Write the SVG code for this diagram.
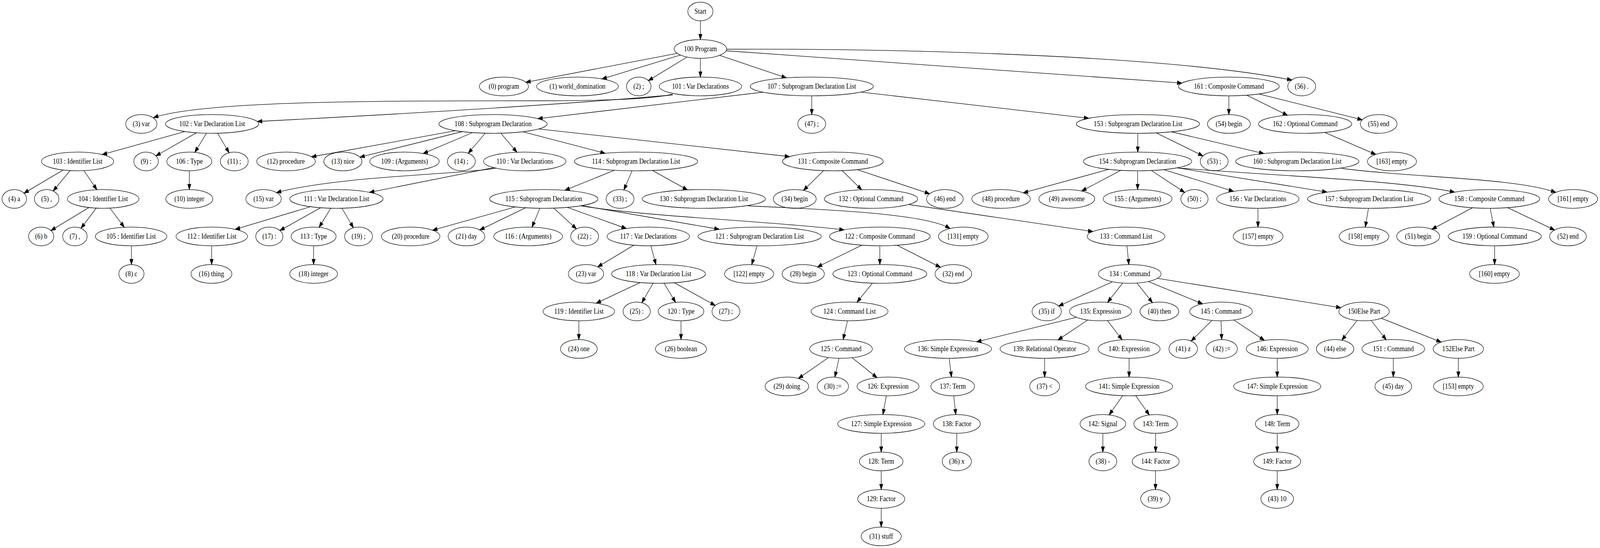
<svg xmlns="http://www.w3.org/2000/svg" width="4699" height="1403" viewBox="0 0 4699 1403" preserveAspectRatio="none">
<style>
svg{width:100vw;height:100vh;display:block}
.node ellipse{fill:none;stroke:#000;stroke-width:1.33}
.node text{font-family:"Liberation Serif","Times New Roman",serif;font-size:18.67px;text-anchor:middle;fill:#000}
#edges path{fill:none;stroke:#000;stroke-width:1.33;marker-end:url(#ah)}
</style>
<defs>
<marker id="ah" markerUnits="userSpaceOnUse" markerWidth="16" markerHeight="12" refX="13.3" refY="4.67" orient="auto" overflow="visible">
<path d="M0,0 L13.3,4.67 L0,9.33 Z" fill="#000" stroke="#000" stroke-width="1.33"/>
</marker>
</defs>
<rect width="4699" height="1403" fill="#fff"/>
<g id="edges">
<path d="M2057,53.3 L2057,101.3"/>
<path d="M1989,136.6 L1544.4,210.6"/>
<path d="M1998.4,140.9 L1768.1,202.1"/>
<path d="M2018,146 L1904.2,206.4"/>
<path d="M2057,149.3 L2057,197.3"/>
<path d="M2113,141.7 L2309.5,199.4"/>
<path d="M2132,130 L3471,212.7"/>
<path d="M2134,126 C2700,124 3450,145 3794,205"/>
<path d="M1975,241 C1920,253 1800,258 1600,258 C1100,258 600,258 451,301"/>
<path d="M1976,243 C1600,272 1000,300 756,311"/>
<path d="M542.9,336.8 L300.3,395.7"/>
<path d="M577.3,339.9 L457.9,399"/>
<path d="M606.4,341.1 L572.2,390"/>
<path d="M639.1,341.1 L672.9,391"/>
<path d="M185.4,435.3 L70.5,494.6"/>
<path d="M205.8,436.8 L156.2,489"/>
<path d="M246.5,436.9 L284.5,485.7"/>
<path d="M261.2,531.3 L149.7,590.2"/>
<path d="M282.6,532.8 L238,584.5"/>
<path d="M323.1,532.9 L364.9,581.7"/>
<path d="M386,629.3 L386,677.3"/>
<path d="M556,437.3 L556,485.3"/>
<path d="M2240.8,236 L1579.5,303.8"/>
<path d="M2384,245.3 L2384,293.3"/>
<path d="M2528.5,235.8 L3197.5,302.8"/>
<path d="M1338,334.7 L915,401.5"/>
<path d="M1357.6,337 L1057,402.4"/>
<path d="M1387.8,339.5 L1242.8,393.1"/>
<path d="M1425,341.1 L1375.2,392.4"/>
<path d="M1471,341.1 L1518.2,389.7"/>
<path d="M1535.6,337.3 L1777.2,392.5"/>
<path d="M1582,330.2 L2318.8,401"/>
<path d="M1456,430.5 C1350,447 1000,450 812,493"/>
<path d="M1450,429.1 L1085.3,492.4"/>
<path d="M911.9,529.2 L691,587.2"/>
<path d="M941.6,531.9 L822,590.2"/>
<path d="M971.4,533.1 L937.2,582"/>
<path d="M1004.1,533.1 L1037.9,583"/>
<path d="M621.5,629.3 L621.5,677.3"/>
<path d="M921,629.3 L921,677.3"/>
<path d="M1804.5,435.8 L1659.3,487.2"/>
<path d="M1856.3,437.3 L1832.3,486.2"/>
<path d="M1916,436.4 L2019,486.2"/>
<path d="M1513.7,529.7 L1270.6,589.4"/>
<path d="M1543.6,531.9 L1409.1,588.8"/>
<path d="M1585.5,533.2 L1562.4,581.5"/>
<path d="M1626.5,532.9 L1692.8,585.9"/>
<path d="M1666.1,530.9 L1839.2,585"/>
<path d="M1709,526.3 L2112,587"/>
<path d="M1706,527 C1900,555 2250,565 2479,588.5"/>
<path d="M1861.2,627.8 L1755.3,683.3"/>
<path d="M1911.5,629.3 L1926.5,677.3"/>
<path d="M1880.1,723.4 L1751.1,776.3"/>
<path d="M1918.1,725.1 L1884.9,775"/>
<path d="M1950.4,725.1 L1984,774"/>
<path d="M1980.6,723.9 L2100.4,782"/>
<path d="M1700,821.3 L1700,869.3"/>
<path d="M2000,821.3 L2000,869.3"/>
<path d="M2223.3,629.3 L2207.7,677.4"/>
<path d="M2531.4,627.7 L2400.7,683.5"/>
<path d="M2584,629.3 L2584,677.3"/>
<path d="M2634.7,627.9 L2761.8,684.3"/>
<path d="M2562,725 L2516.8,773.8"/>
<path d="M2488.8,821.3 L2476.2,869.4"/>
<path d="M2433.5,915.3 L2344.8,968.9"/>
<path d="M2464,917.3 L2451.9,965.5"/>
<path d="M2502.3,915.8 L2575.7,966.9"/>
<path d="M2603,1013.3 L2593,1061.3"/>
<path d="M2588,1109.3 L2588,1157.3"/>
<path d="M2588,1205.3 L2588,1253.3"/>
<path d="M2588,1301.3 L2588,1349.3"/>
<path d="M2196,527 C2450,537 2720,548 2790,585"/>
<path d="M2418.5,436.9 L2359.6,487.4"/>
<path d="M2473.5,436.9 L2530.6,485.8"/>
<path d="M2518,434.3 L2730,496.1"/>
<path d="M2668.5,523.5 L3209.6,592.8"/>
<path d="M3309.7,629.3 L3315.3,677.3"/>
<path d="M3267.2,721.3 L3109.2,783.5"/>
<path d="M3297.1,724.7 L3252.9,773.9"/>
<path d="M3339.2,724.7 L3384.7,774.9"/>
<path d="M3372.2,720.7 L3531.8,777.9"/>
<path d="M3399,712.6 L3938,787.8"/>
<path d="M3161.4,812.4 L2868.3,875.2"/>
<path d="M3194.6,819.2 L3107.1,870.4"/>
<path d="M3252.5,820.7 L3295.5,869.9"/>
<path d="M2787.5,917.3 L2794.5,965.3"/>
<path d="M2801,1013.3 L2807,1061.3"/>
<path d="M2810,1109.3 L2810,1157.3"/>
<path d="M3068,917.3 L3068,965.3"/>
<path d="M3316,917.3 L3316,965.3"/>
<path d="M3297,1013 L3257.5,1062.2"/>
<path d="M3335.3,1013 L3375.4,1062.3"/>
<path d="M3239,1109.3 L3239,1157.3"/>
<path d="M3394,1109.3 L3394,1157.3"/>
<path d="M3393.5,1205.3 L3393.5,1253.3"/>
<path d="M3559.4,820.3 L3498.2,873.3"/>
<path d="M3586.1,821.3 L3587.9,869.3"/>
<path d="M3623.6,819.2 L3713.4,871.4"/>
<path d="M3751,917.3 L3751,965.3"/>
<path d="M3751,1013.3 L3751,1061.3"/>
<path d="M3751,1109.3 L3751,1157.3"/>
<path d="M3751,1205.3 L3751,1253.3"/>
<path d="M3985.6,820.4 L3940.8,870.9"/>
<path d="M4026.6,820.4 L4071.1,869.9"/>
<path d="M4056.6,814.8 L4232.4,875.8"/>
<path d="M4092,917.3 L4092,965.3"/>
<path d="M4283,917.3 L4283,965.3"/>
<path d="M3341.5,341.3 L3341.5,389.3"/>
<path d="M3395.5,340.2 L3532.9,399.1"/>
<path d="M3440.3,337.5 L3711.7,393.1"/>
<path d="M3256.2,433.6 L3005.3,493.7"/>
<path d="M3291.6,436.1 L3176.9,489"/>
<path d="M3341,437.3 L3341,485.3"/>
<path d="M3381.4,436.5 L3479.1,492.7"/>
<path d="M3418,434.3 L3622.7,489.9"/>
<path d="M3457,429.7 L3897,491.8"/>
<path d="M3458,430 C3700,448 4100,460 4272,492"/>
<path d="M3694.5,533.3 L3694.5,581.3"/>
<path d="M4019,533.3 L4009.7,581.3"/>
<path d="M4324.7,531.9 L4205.2,586.8"/>
<path d="M4376.6,533.3 L4387.2,581.3"/>
<path d="M4427.8,531.7 L4565.6,588.9"/>
<path d="M4389.5,629.3 L4389.5,677.3"/>
<path d="M3940,431 C4150,455 4450,455 4569,492.5"/>
<path d="M3609,245.3 L3609,293.3"/>
<path d="M3661.4,243.7 L3781.1,295.1"/>
<path d="M3697.3,240.6 L4000.5,306.7"/>
<path d="M3890.8,339.1 L4040.3,395.3"/>
</g>
<g id="nStart" class="node"><ellipse cx="2057" cy="29.3" rx="37" ry="24"/><text x="2057" y="35.3">Start</text></g>
<g id="n100" class="node"><ellipse cx="2057" cy="125.3" rx="77" ry="24"/><text x="2057" y="131.3">100 Program</text></g>
<g id="n0" class="node"><ellipse cx="1480" cy="221.3" rx="72" ry="24"/><text x="1480" y="227.3">(0) program</text></g>
<g id="n1" class="node"><ellipse cx="1696" cy="221.3" rx="120" ry="24"/><text x="1696" y="227.3">(1) world_domination</text></g>
<g id="n2" class="node"><ellipse cx="1876" cy="221.3" rx="36" ry="24"/><text x="1876" y="227.3">(2) ;</text></g>
<g id="n101" class="node"><ellipse cx="2057" cy="221.3" rx="121" ry="24"/><text x="2057" y="227.3">101 : Var Declarations</text></g>
<g id="n107" class="node"><ellipse cx="2384" cy="221.3" rx="181" ry="24"/><text x="2384" y="227.3">107 : Subprogram Declaration List</text></g>
<g id="n161" class="node"><ellipse cx="3609" cy="221.3" rx="148" ry="24"/><text x="3609" y="227.3">161 : Composite Command</text></g>
<g id="n56" class="node"><ellipse cx="3823" cy="221.3" rx="41" ry="24"/><text x="3823" y="227.3">(56) .</text></g>
<g id="n3" class="node"><ellipse cx="415" cy="317.3" rx="46" ry="24"/><text x="415" y="323.3">(3) var</text></g>
<g id="n102" class="node"><ellipse cx="623" cy="317.3" rx="137" ry="24"/><text x="623" y="323.3">102 : Var Declaration List</text></g>
<g id="n108" class="node"><ellipse cx="1448" cy="317.3" rx="159" ry="24"/><text x="1448" y="323.3">108 : Subprogram Declaration</text></g>
<g id="n47" class="node"><ellipse cx="2384" cy="317.3" rx="41" ry="24"/><text x="2384" y="323.3">(47) ;</text></g>
<g id="n153" class="node"><ellipse cx="3342" cy="317.3" rx="181" ry="24"/><text x="3342" y="323.3">153 : Subprogram Declaration List</text></g>
<g id="n54" class="node"><ellipse cx="3609" cy="317.3" rx="63" ry="24"/><text x="3609" y="323.3">(54) begin</text></g>
<g id="n162" class="node"><ellipse cx="3833" cy="317.3" rx="137" ry="24"/><text x="3833" y="323.3">162 : Optional Command</text></g>
<g id="n55" class="node"><ellipse cx="4049" cy="317.3" rx="54" ry="24"/><text x="4049" y="323.3">(55) end</text></g>
<g id="n103" class="node"><ellipse cx="228" cy="413.3" rx="106" ry="24"/><text x="228" y="419.3">103 : Identifier List</text></g>
<g id="n9" class="node"><ellipse cx="429" cy="413.3" rx="36" ry="24"/><text x="429" y="419.3">(9) :</text></g>
<g id="n106" class="node"><ellipse cx="556" cy="413.3" rx="66" ry="24"/><text x="556" y="419.3">106 : Type</text></g>
<g id="n11" class="node"><ellipse cx="688" cy="413.3" rx="41" ry="24"/><text x="688" y="419.3">(11) ;</text></g>
<g id="n12" class="node"><ellipse cx="840" cy="413.3" rx="86" ry="24"/><text x="840" y="419.3">(12) procedure</text></g>
<g id="n13" class="node"><ellipse cx="1007" cy="413.3" rx="56" ry="24"/><text x="1007" y="419.3">(13) nice</text></g>
<g id="n109" class="node"><ellipse cx="1188" cy="413.3" rx="102" ry="24"/><text x="1188" y="419.3">109 : (Arguments)</text></g>
<g id="n14" class="node"><ellipse cx="1355" cy="413.3" rx="41" ry="24"/><text x="1355" y="419.3">(14) ;</text></g>
<g id="n110" class="node"><ellipse cx="1541" cy="413.3" rx="121" ry="24"/><text x="1541" y="419.3">110 : Var Declarations</text></g>
<g id="n114" class="node"><ellipse cx="1868" cy="413.3" rx="181" ry="24"/><text x="1868" y="419.3">114 : Subprogram Declaration List</text></g>
<g id="n131" class="node"><ellipse cx="2446" cy="413.3" rx="148" ry="24"/><text x="2446" y="419.3">131 : Composite Command</text></g>
<g id="n154" class="node"><ellipse cx="3341" cy="413.3" rx="159" ry="24"/><text x="3341" y="419.3">154 : Subprogram Declaration</text></g>
<g id="n53" class="node"><ellipse cx="3566" cy="413.3" rx="41" ry="24"/><text x="3566" y="419.3">(53) ;</text></g>
<g id="n160" class="node"><ellipse cx="3810" cy="413.3" rx="181" ry="24"/><text x="3810" y="419.3">160 : Subprogram Declaration List</text></g>
<g id="e163" class="node"><ellipse cx="4088" cy="413.3" rx="72" ry="24"/><text x="4088" y="419.3">[163] empty</text></g>
<g id="n4" class="node"><ellipse cx="42" cy="509.3" rx="36" ry="24"/><text x="42" y="515.3">(4) a</text></g>
<g id="n5" class="node"><ellipse cx="137" cy="509.3" rx="36" ry="24"/><text x="137" y="515.3">(5) ,</text></g>
<g id="n104" class="node"><ellipse cx="303" cy="509.3" rx="105" ry="24"/><text x="303" y="515.3">104 : Identifier List</text></g>
<g id="n10" class="node"><ellipse cx="556" cy="509.3" rx="69" ry="24"/><text x="556" y="515.3">(10) integer</text></g>
<g id="n15" class="node"><ellipse cx="774" cy="509.3" rx="52" ry="24"/><text x="774" y="515.3">(15) var</text></g>
<g id="n111" class="node"><ellipse cx="988" cy="509.3" rx="137" ry="24"/><text x="988" y="515.3">111 : Var Declaration List</text></g>
<g id="n115" class="node"><ellipse cx="1597" cy="509.3" rx="159" ry="24"/><text x="1597" y="515.3">115 : Subprogram Declaration</text></g>
<g id="n33" class="node"><ellipse cx="1821" cy="509.3" rx="41" ry="24"/><text x="1821" y="515.3">(33) ;</text></g>
<g id="n130" class="node"><ellipse cx="2067" cy="509.3" rx="181" ry="24"/><text x="2067" y="515.3">130 : Subprogram Declaration List</text></g>
<g id="n34" class="node"><ellipse cx="2334" cy="509.3" rx="63" ry="24"/><text x="2334" y="515.3">(34) begin</text></g>
<g id="n132" class="node"><ellipse cx="2558" cy="509.3" rx="137" ry="24"/><text x="2558" y="515.3">132 : Optional Command</text></g>
<g id="n46" class="node"><ellipse cx="2775" cy="509.3" rx="54" ry="24"/><text x="2775" y="515.3">(46) end</text></g>
<g id="n48" class="node"><ellipse cx="2940" cy="509.3" rx="86" ry="24"/><text x="2940" y="515.3">(48) procedure</text></g>
<g id="n49" class="node"><ellipse cx="3133" cy="509.3" rx="82" ry="24"/><text x="3133" y="515.3">(49) awesome</text></g>
<g id="n155" class="node"><ellipse cx="3341" cy="509.3" rx="101" ry="24"/><text x="3341" y="515.3">155 : (Arguments)</text></g>
<g id="n50" class="node"><ellipse cx="3508" cy="509.3" rx="40" ry="24"/><text x="3508" y="515.3">(50) ;</text></g>
<g id="n156" class="node"><ellipse cx="3694" cy="509.3" rx="121" ry="24"/><text x="3694" y="515.3">156 : Var Declarations</text></g>
<g id="n157" class="node"><ellipse cx="4021" cy="509.3" rx="181" ry="24"/><text x="4021" y="515.3">157 : Subprogram Declaration List</text></g>
<g id="n158" class="node"><ellipse cx="4374" cy="509.3" rx="148" ry="24"/><text x="4374" y="515.3">158 : Composite Command</text></g>
<g id="e161" class="node"><ellipse cx="4620" cy="509.3" rx="72" ry="24"/><text x="4620" y="515.3">[161] empty</text></g>
<g id="n6" class="node"><ellipse cx="121" cy="605.3" rx="37" ry="24"/><text x="121" y="611.3">(6) b</text></g>
<g id="n7" class="node"><ellipse cx="220" cy="605.3" rx="36" ry="24"/><text x="220" y="611.3">(7) ,</text></g>
<g id="n105" class="node"><ellipse cx="385" cy="605.3" rx="105" ry="24"/><text x="385" y="611.3">105 : Identifier List</text></g>
<g id="n112" class="node"><ellipse cx="622" cy="605.3" rx="105" ry="24"/><text x="622" y="611.3">112 : Identifier List</text></g>
<g id="n17" class="node"><ellipse cx="791" cy="605.3" rx="40" ry="24"/><text x="791" y="611.3">(17) :</text></g>
<g id="n113" class="node"><ellipse cx="921" cy="605.3" rx="66" ry="24"/><text x="921" y="611.3">113 : Type</text></g>
<g id="n19" class="node"><ellipse cx="1053" cy="605.3" rx="41" ry="24"/><text x="1053" y="611.3">(19) ;</text></g>
<g id="n20" class="node"><ellipse cx="1206" cy="605.3" rx="86" ry="24"/><text x="1206" y="611.3">(20) procedure</text></g>
<g id="n21" class="node"><ellipse cx="1370" cy="605.3" rx="54" ry="24"/><text x="1370" y="611.3">(21) day</text></g>
<g id="n116" class="node"><ellipse cx="1551" cy="605.3" rx="101" ry="24"/><text x="1551" y="611.3">116 : (Arguments)</text></g>
<g id="n22" class="node"><ellipse cx="1717" cy="605.3" rx="41" ry="24"/><text x="1717" y="611.3">(22) ;</text></g>
<g id="n117" class="node"><ellipse cx="1904" cy="605.3" rx="121" ry="24"/><text x="1904" y="611.3">117 : Var Declarations</text></g>
<g id="n121" class="node"><ellipse cx="2231" cy="605.3" rx="181" ry="24"/><text x="2231" y="611.3">121 : Subprogram Declaration List</text></g>
<g id="n122" class="node"><ellipse cx="2584" cy="605.3" rx="148" ry="24"/><text x="2584" y="611.3">122 : Composite Command</text></g>
<g id="e131" class="node"><ellipse cx="2829" cy="605.3" rx="73" ry="24"/><text x="2829" y="611.3">[131] empty</text></g>
<g id="n133" class="node"><ellipse cx="3307" cy="605.3" rx="114" ry="24"/><text x="3307" y="611.3">133 : Command List</text></g>
<g id="e157" class="node"><ellipse cx="3695" cy="605.3" rx="73" ry="24"/><text x="3695" y="611.3">[157] empty</text></g>
<g id="e158" class="node"><ellipse cx="4006" cy="605.3" rx="73" ry="24"/><text x="4006" y="611.3">[158] empty</text></g>
<g id="n51" class="node"><ellipse cx="4165" cy="605.3" rx="63" ry="24"/><text x="4165" y="611.3">(51) begin</text></g>
<g id="n159" class="node"><ellipse cx="4390" cy="605.3" rx="137" ry="24"/><text x="4390" y="611.3">159 : Optional Command</text></g>
<g id="n52" class="node"><ellipse cx="4605" cy="605.3" rx="54" ry="24"/><text x="4605" y="611.3">(52) end</text></g>
<g id="n8" class="node"><ellipse cx="386" cy="701.3" rx="37" ry="24"/><text x="386" y="707.3">(8) c</text></g>
<g id="n16" class="node"><ellipse cx="621" cy="701.3" rx="60" ry="24"/><text x="621" y="707.3">(16) thing</text></g>
<g id="n18" class="node"><ellipse cx="921" cy="701.3" rx="70" ry="24"/><text x="921" y="707.3">(18) integer</text></g>
<g id="n23" class="node"><ellipse cx="1721" cy="701.3" rx="52" ry="24"/><text x="1721" y="707.3">(23) var</text></g>
<g id="n118" class="node"><ellipse cx="1934" cy="701.3" rx="138" ry="24"/><text x="1934" y="707.3">118 : Var Declaration List</text></g>
<g id="e122" class="node"><ellipse cx="2200" cy="701.3" rx="72" ry="24"/><text x="2200" y="707.3">[122] empty</text></g>
<g id="n28" class="node"><ellipse cx="2359" cy="701.3" rx="62" ry="24"/><text x="2359" y="707.3">(28) begin</text></g>
<g id="n123" class="node"><ellipse cx="2584" cy="701.3" rx="138" ry="24"/><text x="2584" y="707.3">123 : Optional Command</text></g>
<g id="n32" class="node"><ellipse cx="2800" cy="701.3" rx="54" ry="24"/><text x="2800" y="707.3">(32) end</text></g>
<g id="n134" class="node"><ellipse cx="3318" cy="701.3" rx="92" ry="24"/><text x="3318" y="707.3">134 : Command</text></g>
<g id="e160" class="node"><ellipse cx="4389" cy="701.3" rx="73" ry="24"/><text x="4389" y="707.3">[160] empty</text></g>
<g id="n119" class="node"><ellipse cx="1700" cy="797.3" rx="105" ry="24"/><text x="1700" y="803.3">119 : Identifier List</text></g>
<g id="n25" class="node"><ellipse cx="1870" cy="797.3" rx="40" ry="24"/><text x="1870" y="803.3">(25) :</text></g>
<g id="n120" class="node"><ellipse cx="2000" cy="797.3" rx="67" ry="24"/><text x="2000" y="803.3">120 : Type</text></g>
<g id="n27" class="node"><ellipse cx="2132" cy="797.3" rx="41" ry="24"/><text x="2132" y="803.3">(27) ;</text></g>
<g id="n124" class="node"><ellipse cx="2495" cy="797.3" rx="113" ry="24"/><text x="2495" y="803.3">124 : Command List</text></g>
<g id="n35" class="node"><ellipse cx="3074" cy="797.3" rx="43" ry="24"/><text x="3074" y="803.3">(35) if</text></g>
<g id="n135" class="node"><ellipse cx="3232" cy="797.3" rx="91" ry="24"/><text x="3232" y="803.3">135: Expression</text></g>
<g id="n40" class="node"><ellipse cx="3405" cy="797.3" rx="57" ry="24"/><text x="3405" y="803.3">(40) then</text></g>
<g id="n145" class="node"><ellipse cx="3586" cy="797.3" rx="92" ry="24"/><text x="3586" y="803.3">145 : Command</text></g>
<g id="n150" class="node"><ellipse cx="4006" cy="797.3" rx="74" ry="24"/><text x="4006" y="803.3">150Else Part</text></g>
<g id="n24" class="node"><ellipse cx="1700" cy="893.3" rx="54" ry="24"/><text x="1700" y="899.3">(24) one</text></g>
<g id="n26" class="node"><ellipse cx="2000" cy="893.3" rx="75" ry="24"/><text x="2000" y="899.3">(26) boolean</text></g>
<g id="n125" class="node"><ellipse cx="2470" cy="893.3" rx="92" ry="24"/><text x="2470" y="899.3">125 : Command</text></g>
<g id="n136" class="node"><ellipse cx="2784" cy="893.3" rx="128" ry="24"/><text x="2784" y="899.3">136: Simple Expression</text></g>
<g id="n139" class="node"><ellipse cx="3068" cy="893.3" rx="131" ry="24"/><text x="3068" y="899.3">139: Relational Operator</text></g>
<g id="n140" class="node"><ellipse cx="3316" cy="893.3" rx="91" ry="24"/><text x="3316" y="899.3">140: Expression</text></g>
<g id="n41" class="node"><ellipse cx="3475" cy="893.3" rx="42" ry="24"/><text x="3475" y="899.3">(41) z</text></g>
<g id="n42" class="node"><ellipse cx="3588" cy="893.3" rx="46" ry="24"/><text x="3588" y="899.3">(42) :=</text></g>
<g id="n146" class="node"><ellipse cx="3751" cy="893.3" rx="91" ry="24"/><text x="3751" y="899.3">146: Expression</text></g>
<g id="n44" class="node"><ellipse cx="3921" cy="893.3" rx="55" ry="24"/><text x="3921" y="899.3">(44) else</text></g>
<g id="n151" class="node"><ellipse cx="4092" cy="893.3" rx="92" ry="24"/><text x="4092" y="899.3">151 : Command</text></g>
<g id="n152" class="node"><ellipse cx="4283" cy="893.3" rx="74" ry="24"/><text x="4283" y="899.3">152Else Part</text></g>
<g id="n29" class="node"><ellipse cx="2311" cy="989.3" rx="64" ry="24"/><text x="2311" y="995.3">(29) doing</text></g>
<g id="n30" class="node"><ellipse cx="2446" cy="989.3" rx="46" ry="24"/><text x="2446" y="995.3">(30) :=</text></g>
<g id="n126" class="node"><ellipse cx="2608" cy="989.3" rx="91" ry="24"/><text x="2608" y="995.3">126: Expression</text></g>
<g id="n137" class="node"><ellipse cx="2798" cy="989.3" rx="64" ry="24"/><text x="2798" y="995.3">137: Term</text></g>
<g id="n37" class="node"><ellipse cx="3068" cy="989.3" rx="44" ry="24"/><text x="3068" y="995.3">(37) &lt;</text></g>
<g id="n141" class="node"><ellipse cx="3316" cy="989.3" rx="128" ry="24"/><text x="3316" y="995.3">141: Simple Expression</text></g>
<g id="n147" class="node"><ellipse cx="3751" cy="989.3" rx="128" ry="24"/><text x="3751" y="995.3">147: Simple Expression</text></g>
<g id="n45" class="node"><ellipse cx="4092" cy="989.3" rx="54" ry="24"/><text x="4092" y="995.3">(45) day</text></g>
<g id="e153" class="node"><ellipse cx="4283" cy="989.3" rx="73" ry="24"/><text x="4283" y="995.3">[153] empty</text></g>
<g id="n127" class="node"><ellipse cx="2588" cy="1085.3" rx="128" ry="24"/><text x="2588" y="1091.3">127: Simple Expression</text></g>
<g id="n138" class="node"><ellipse cx="2810" cy="1085.3" rx="69" ry="24"/><text x="2810" y="1091.3">138: Factor</text></g>
<g id="n142" class="node"><ellipse cx="3239" cy="1085.3" rx="67" ry="24"/><text x="3239" y="1091.3">142: Signal</text></g>
<g id="n143" class="node"><ellipse cx="3394" cy="1085.3" rx="64" ry="24"/><text x="3394" y="1091.3">143: Term</text></g>
<g id="n148" class="node"><ellipse cx="3751" cy="1085.3" rx="64" ry="24"/><text x="3751" y="1091.3">148: Term</text></g>
<g id="n128" class="node"><ellipse cx="2588" cy="1181.3" rx="64" ry="24"/><text x="2588" y="1187.3">128: Term</text></g>
<g id="n36" class="node"><ellipse cx="2810" cy="1181.3" rx="43" ry="24"/><text x="2810" y="1187.3">(36) x</text></g>
<g id="n38" class="node"><ellipse cx="3239" cy="1181.3" rx="41" ry="24"/><text x="3239" y="1187.3">(38) -</text></g>
<g id="n144" class="node"><ellipse cx="3394" cy="1181.3" rx="69" ry="24"/><text x="3394" y="1187.3">144: Factor</text></g>
<g id="n149" class="node"><ellipse cx="3751" cy="1181.3" rx="69" ry="24"/><text x="3751" y="1187.3">149: Factor</text></g>
<g id="n129" class="node"><ellipse cx="2588" cy="1277.3" rx="69" ry="24"/><text x="2588" y="1283.3">129: Factor</text></g>
<g id="n39" class="node"><ellipse cx="3393" cy="1277.3" rx="43" ry="24"/><text x="3393" y="1283.3">(39) y</text></g>
<g id="n43" class="node"><ellipse cx="3751" cy="1277.3" rx="48" ry="24"/><text x="3751" y="1283.3">(43) 10</text></g>
<g id="n31" class="node"><ellipse cx="2588" cy="1373.3" rx="59" ry="24"/><text x="2588" y="1379.3">(31) stuff</text></g>
</svg>
